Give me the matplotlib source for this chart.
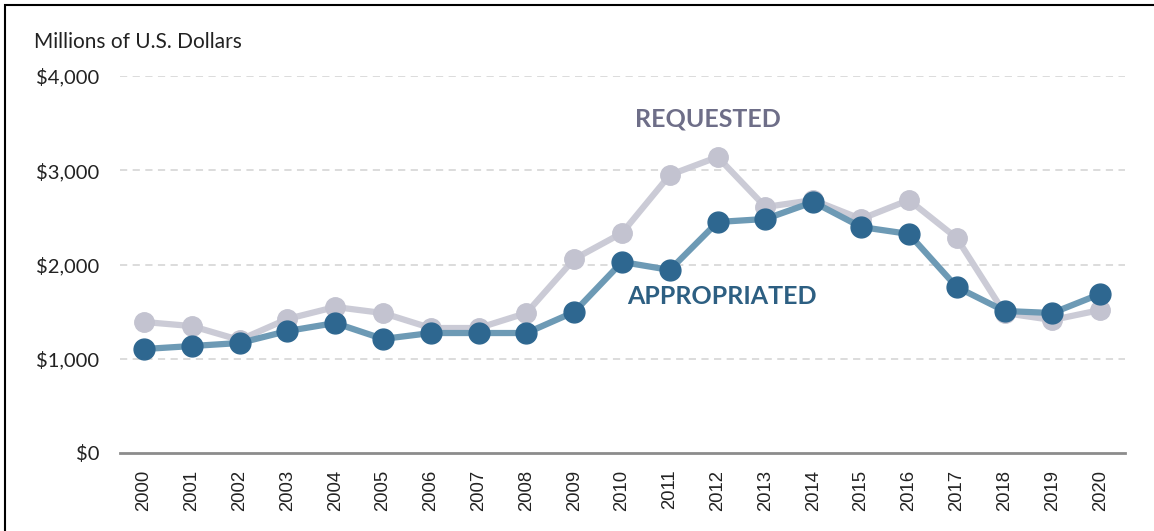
import matplotlib
matplotlib.use("Agg")
import matplotlib.pyplot as plt
from matplotlib.patches import Rectangle

years = list(range(2000, 2021))
appropriated = [1103, 1135, 1167, 1294, 1379, 1210, 1273, 1273, 1273, 1496, 2027,
                1942, 2451, 2483, 2663, 2398, 2324, 1761, 1507, 1485, 1687]
requested = [1390, 1347, 1199, 1422, 1549, 1485, 1326, 1326, 1485, 2058, 2334,
             2950, 3141, 2610, 2684, 2483, 2684, 2281, 1485, 1411, 1517]
yticks = [0, 1000, 2000, 3000, 4000]
ytick_labels = ["$0", "$1,000", "$2,000", "$3,000", "$4,000"]

fig = plt.figure(figsize=(11.54, 5.31), dpi=100)
ax = fig.add_axes([120/1154, 1-453/531, (1125-120)/1154, (453-76)/531])

ax.plot(years, requested, color="#CBCBD6", lw=4.5, marker="o", markersize=14,
        markerfacecolor="#C3C3D0", markeredgecolor="#C3C3D0", zorder=3,
        solid_capstyle="round")
ax.plot(years, appropriated, color="#6D9AB5", lw=4.5, marker="o", markersize=15,
        markerfacecolor="#2E6790", markeredgecolor="#2E6790", zorder=4,
        solid_capstyle="round")

ax.set_xlim(1999.5, 2020.52)
ax.set_ylim(0, 4000)
ax.set_yticks(yticks)
ax.set_yticklabels(ytick_labels, fontfamily="Lato", fontsize=14.5, color="#222222")
ax.set_xticks(years)
ax.set_xticklabels([str(y) for y in years], rotation=90, fontfamily="Liberation Sans",
                   fontsize=13.3, color="#222222")
ax.tick_params(axis="both", length=0)
ax.tick_params(axis="y", pad=15)
ax.tick_params(axis="x", pad=12)

for v in yticks[1:]:
    ax.axhline(v, color="#D9D9D9", lw=1.3, ls=(0, (4, 3)), zorder=1)

for s in ["top", "right", "left"]:
    ax.spines[s].set_visible(False)
ax.spines["bottom"].set_color("#8C8C8C")
ax.spines["bottom"].set_linewidth(2)

fig.text(34/1154, 1-42/531, "Millions of U.S. Dollars", fontfamily="Lato",
         fontsize=15, color="#222222", va="center", ha="left")

ax.text(2011.8, 3540, "REQUESTED", fontfamily="Lato", fontweight="bold",
        fontsize=18, color="#6E6E88", ha="center", va="center")
ax.text(2012.1, 1660, "APPROPRIATED", fontfamily="Lato", fontweight="bold",
        fontsize=18, color="#2D5F82", ha="center", va="center")

fig.patches.append(Rectangle((5/1154, -0.02), 1.1, 1.02-4.5/531,
                             transform=fig.transFigure, fill=False,
                             edgecolor="#000000", lw=1.5))

fig.savefig("out.png", dpi=100)
